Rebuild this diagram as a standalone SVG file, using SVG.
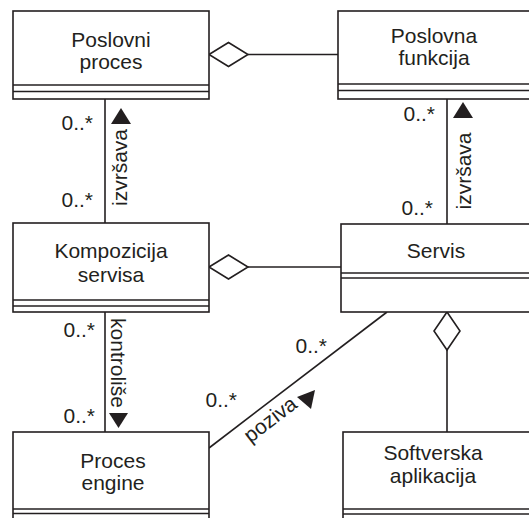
<svg xmlns="http://www.w3.org/2000/svg" width="529" height="518" viewBox="0 0 529 518">
  <style>
    .box { fill: #ffffff; stroke: #231f20; stroke-width: 1.6; }
    .sep { stroke: #231f20; stroke-width: 1.6; fill: none; }
    .ln { stroke: #231f20; stroke-width: 1.6; fill: none; }
    .dia { fill: #ffffff; stroke: #231f20; stroke-width: 1.6; }
    .tri { fill: #231f20; stroke: none; }
    text { font-family: "Liberation Sans", Arial, sans-serif; font-size: 21px; fill: #231f20; }
    .c { text-anchor: middle; }
    .e { text-anchor: end; }
  </style>

  <rect x="0" y="0" width="529" height="518" fill="#ffffff"/>

  <!-- associations and aggregations -->
  <g id="connectors">
    <!-- Poslovni proces <> Poslovna funkcija -->
    <line class="ln" x1="248" y1="54.5" x2="338" y2="54.5"/>
    <polygon class="dia" points="209,54.5 228.5,42.5 248,54.5 228.5,66.5"/>

    <!-- Kompozicija servisa <> Servis -->
    <line class="ln" x1="248" y1="267" x2="341" y2="267"/>
    <polygon class="dia" points="209,267 228.5,255 248,267 228.5,279"/>

    <!-- Servis <> Softverska aplikacija -->
    <line class="ln" x1="447" y1="350" x2="447" y2="432"/>
    <polygon class="dia" points="447,312 460,331 447,350 434,331"/>

    <!-- izvrsava (left) -->
    <line class="ln" x1="105" y1="99" x2="105" y2="223"/>
    <polygon class="tri" points="121,108 131,124 111,124"/>
    <text transform="translate(127,167.5) rotate(-90)" class="c">izvršava</text>
    <text x="93" y="130" class="e">0..*</text>
    <text x="93" y="207" class="e">0..*</text>

    <!-- izvrsava (right) -->
    <line class="ln" x1="447" y1="99" x2="447" y2="224"/>
    <polygon class="tri" points="463,102 473,118 453,118"/>
    <text transform="translate(471,171) rotate(-90)" class="c">izvršava</text>
    <text x="435" y="121" class="e">0..*</text>
    <text x="433" y="215" class="e">0..*</text>

    <!-- kontrolise -->
    <line class="ln" x1="105" y1="312" x2="105" y2="432"/>
    <polygon class="tri" points="109,413 128,413 118.5,428"/>
    <text transform="translate(111,363) rotate(90)" class="c">kontroliše</text>
    <text x="95" y="337" class="e">0..*</text>
    <text x="95" y="423" class="e">0..*</text>

    <!-- poziva -->
    <line class="ln" x1="387" y1="312" x2="209" y2="448"/>
    <text transform="translate(274.5,425) rotate(-37.4)" class="c">poziva</text>
    <polygon class="tri" points="297,397 315,390 311,409"/>
    <text x="327" y="353" class="e">0..*</text>
    <text x="237" y="407" class="e">0..*</text>
  </g>

  <g id="poslovni-proces">
    <rect class="box" x="13" y="11" width="196" height="88"/>
    <line class="sep" x1="13" y1="85" x2="209" y2="85"/>
    <line class="sep" x1="13" y1="91.5" x2="209" y2="91.5"/>
    <text x="111" y="47" class="c">Poslovni</text>
    <text x="111" y="69" class="c">proces</text>
  </g>

  <g id="poslovna-funkcija">
    <rect class="box" x="338" y="11" width="194" height="88"/>
    <line class="sep" x1="338" y1="84" x2="532" y2="84"/>
    <line class="sep" x1="338" y1="90.5" x2="532" y2="90.5"/>
    <text x="434" y="43" class="c">Poslovna</text>
    <text x="434" y="65" class="c">funkcija</text>
  </g>

  <g id="kompozicija-servisa">
    <rect class="box" x="13" y="223" width="196" height="89"/>
    <line class="sep" x1="13" y1="300" x2="209" y2="300"/>
    <line class="sep" x1="13" y1="306" x2="209" y2="306"/>
    <text x="111" y="258" class="c">Kompozicija</text>
    <text x="111" y="282" class="c">servisa</text>
  </g>

  <g id="servis">
    <rect class="box" x="341" y="224" width="191" height="88"/>
    <line class="sep" x1="341" y1="273" x2="532" y2="273"/>
    <line class="sep" x1="341" y1="278" x2="532" y2="278"/>
    <text x="436" y="258" class="c">Servis</text>
  </g>

  <g id="proces-engine">
    <rect class="box" x="13" y="432" width="196" height="95"/>
    <line class="sep" x1="13" y1="509" x2="209" y2="509"/>
    <line class="sep" x1="13" y1="513.5" x2="209" y2="513.5"/>
    <text x="113" y="468" class="c">Proces</text>
    <text x="113" y="490" class="c">engine</text>
  </g>

  <g id="softverska-aplikacija">
    <rect class="box" x="343" y="432" width="189" height="95"/>
    <line class="sep" x1="343" y1="509" x2="532" y2="509"/>
    <line class="sep" x1="343" y1="514" x2="532" y2="514"/>
    <text x="433" y="460" class="c">Softverska</text>
    <text x="433" y="483" class="c">aplikacija</text>
  </g>
</svg>
